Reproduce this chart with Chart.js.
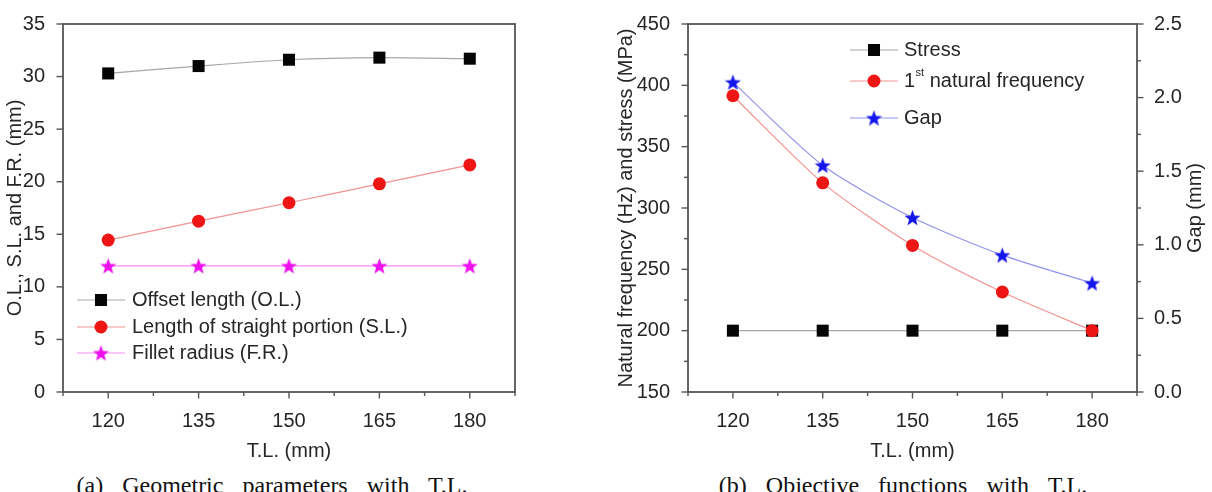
<!DOCTYPE html>
<html>
<head>
<meta charset="utf-8">
<title>Geometric parameters and objective functions with T.L.</title>
<script src="https://cdn.jsdelivr.net/npm/chart.js@4.4.1/dist/chart.umd.min.js"></script>
<style>
  html, body { margin: 0; padding: 0; background: #fff; }
  body { width: 1212px; height: 492px; position: relative; overflow: hidden; }
  canvas { position: absolute; top: 0; }
  #chart-a { left: 0; }
  #chart-b { left: 580px; }
  .caption {
    position: absolute; top: 473px;
    font: 24px 'Liberation Serif', 'Times New Roman', serif;
    line-height: 24px; word-spacing: 13px; color: #111;
    white-space: nowrap; transform: translateX(-50%);
  }
  #cap-a { left: 272px; }
  #cap-b { left: 903px; }
</style>
</head>
<body>
<canvas id="chart-a" width="580" height="470"></canvas>
<canvas id="chart-b" width="632" height="470"></canvas>
<div class="caption" id="cap-a">(a) Geometric parameters with T.L.</div>
<div class="caption" id="cap-b">(b) Objective functions with T.L.</div>
<script>
// T.L. sweep (mm)
const tlValues = [120, 135, 150, 165, 180];

// (a) geometric parameters (mm)
const offsetLength = [30.3, 31.0, 31.6, 31.8, 31.7];
const straightLength = [14.45, 16.25, 18.0, 19.8, 21.6];
const filletRadius = [12, 12, 12, 12, 12];

// (b) objective functions
const stress = [200, 200, 200, 200, 200];             // MPa
const naturalFreq = [391.5, 320.5, 269.5, 231.5, 200]; // Hz
const gap = [2.105, 1.54, 1.185, 0.93, 0.74];          // mm

const labelsA = ['Offset length (O.L.)', 'Length of straight portion (S.L.)', 'Fillet radius (F.R.)'];
const labelsB = ['Stress', '1st natural frequency', 'Gap'];

const xTitle = 'T.L. (mm)';
const yTitleA = 'O.L., S.L. and F.R. (mm)';
const yTitleB = 'Natural frequency (Hz) and stress (MPa)';
const y2TitleB = 'Gap (mm)';

const colors = {
    text: '#262626',
    frame: '#555555',
    black: '#050505',
    blackLine: 'rgba(0, 0, 0, 0.35)',
    red: '#ee1515',
    redLine: 'rgba(230, 40, 40, 0.5)',
    magenta: '#ee10ee',
    magentaLine: 'rgba(238, 0, 238, 0.45)',
    blue: '#1515ee',
    blueLine: 'rgba(40, 40, 220, 0.5)'
};

const FONT = "'Liberation Sans', Arial, sans-serif";

// filled five point star used as marker
function makeStar(color, size) {
    const c = document.createElement('canvas');
    c.width = size;
    c.height = size;
    const g = c.getContext('2d');
    const r = size / 2;
    const ri = r * 0.42;
    g.beginPath();
    for (let i = 0; i < 10; i++) {
        const rad = i % 2 ? ri : r;
        const a = -Math.PI / 2 + i * Math.PI / 5;
        g.lineTo(r + rad * Math.cos(a), r + 0.09 * r + rad * Math.sin(a));
    }
    g.closePath();
    g.fillStyle = color;
    g.fill();
    return c;
}

const starMagenta = makeStar(colors.magenta, 17);
const starBlue = makeStar(colors.blue, 17);

const toPoints = (vals) => tlValues.map((x, i) => ({ x: x, y: vals[i] }));

// plot frame + major/minor tick marks (outward)
const frameTicks = {
    id: 'frameTicks',
    beforeDatasetsDraw(chart) {
        const { ctx, chartArea: a } = chart;
        ctx.save();
        ctx.strokeStyle = colors.frame;
        ctx.lineWidth = 1.8;
        ctx.strokeRect(a.left, a.top, a.right - a.left, a.bottom - a.top);
        ctx.lineWidth = 1.4;
        Object.values(chart.scales).forEach((scale) => {
            scale.ticks.forEach((t) => {
                const len = t.label === '' ? 4 : 6.5;
                const p = scale.getPixelForValue(t.value);
                ctx.beginPath();
                if (scale.position === 'bottom') {
                    ctx.moveTo(p, a.bottom);
                    ctx.lineTo(p, a.bottom + len);
                } else if (scale.position === 'left') {
                    ctx.moveTo(a.left, p);
                    ctx.lineTo(a.left - len, p);
                } else {
                    ctx.moveTo(a.right, p);
                    ctx.lineTo(a.right + len, p);
                }
                ctx.stroke();
            });
        });
        ctx.restore();
    }
};

function drawMarker(ctx, ds, x, y) {
    ctx.fillStyle = ds.pointBackgroundColor;
    if (ds.pointStyle === 'rect') {
        const h = ds.pointRadius * Math.SQRT1_2;
        ctx.fillRect(x - h, y - h, 2 * h, 2 * h);
    } else if (ds.pointStyle === 'circle') {
        ctx.beginPath();
        ctx.arc(x, y, ds.pointRadius, 0, Math.PI * 2);
        ctx.fill();
    } else {
        const img = ds.pointStyle;
        ctx.drawImage(img, x - img.width / 2, y - img.height / 2);
    }
}

// label text, with "1st" style ordinal drawn as superscript
function drawLabel(ctx, text, x, y) {
    ctx.fillStyle = colors.text;
    ctx.textBaseline = 'middle';
    ctx.textAlign = 'left';
    const m = text.match(/^(\d+)(st|nd|rd|th)(\s.*)$/);
    ctx.font = '20px ' + FONT;
    if (!m) {
        ctx.fillText(text, x, y);
        return;
    }
    ctx.fillText(m[1], x, y);
    x += ctx.measureText(m[1]).width + 0.5;
    ctx.font = '11px ' + FONT;
    ctx.fillText(m[2], x, y - 8);
    x += ctx.measureText(m[2]).width;
    ctx.font = '20px ' + FONT;
    ctx.fillText(m[3], x, y);
}

const markerLegend = {
    id: 'markerLegend',
    afterDatasetsDraw(chart, args, opts) {
        const { ctx } = chart;
        ctx.save();
        chart.data.datasets.forEach((ds, i) => {
            const y = opts.rows[i];
            ctx.strokeStyle = ds.borderColor;
            ctx.lineWidth = 1.2;
            ctx.beginPath();
            ctx.moveTo(opts.x0, y);
            ctx.lineTo(opts.x1, y);
            ctx.stroke();
            drawMarker(ctx, ds, (opts.x0 + opts.x1) / 2, y);
            drawLabel(ctx, ds.label, opts.textX, y);
        });
        ctx.restore();
    }
};

// right-hand axis title, read bottom to top like the left one
const rightTitle = {
    id: 'rightTitle',
    afterDraw(chart, args, opts) {
        if (!opts.text) return;
        const s = chart.scales.y2;
        const { ctx } = chart;
        ctx.save();
        ctx.translate(opts.x, (s.top + s.bottom) / 2);
        ctx.rotate(-Math.PI / 2);
        ctx.font = '20px ' + FONT;
        ctx.fillStyle = colors.text;
        ctx.textAlign = 'center';
        ctx.textBaseline = 'middle';
        ctx.fillText(opts.text, 0, 0);
        ctx.restore();
    }
};

Chart.defaults.font.family = FONT;
Chart.defaults.font.size = 20;
Chart.defaults.color = colors.text;

function xScale() {
    return {
        type: 'linear',
        min: 112.5,
        max: 187.5,
        grid: { display: false },
        border: { display: false },
        ticks: {
            stepSize: 7.5,
            autoSkip: false,
            maxRotation: 0,
            padding: 9,
            callback: (v) => (v % 15 === 0 ? String(v) : '')
        },
        title: { display: true, text: xTitle, padding: { top: 0, bottom: 7 }, font: { size: 20, lineHeight: 1.2 } },
        afterFit: (s) => { s.height = 78; }
    };
}

function lineSet(label, vals, line, fill, style, radius, extra) {
    return Object.assign({
        label: label,
        data: toPoints(vals),
        borderColor: line,
        borderWidth: 1.2,
        pointStyle: style,
        pointRadius: radius,
        pointBackgroundColor: fill,
        pointBorderColor: fill,
        pointBorderWidth: 0,
        tension: 0.25,
        fill: false
    }, extra || {});
}

// Chart (a): geometric parameters
new Chart(document.getElementById('chart-a'), {
    type: 'line',
    data: {
        datasets: [
            lineSet(labelsA[0], offsetLength, colors.blackLine, colors.black, 'rect', 8.5),
            lineSet(labelsA[1], straightLength, colors.redLine, colors.red, 'circle', 6.5),
            lineSet(labelsA[2], filletRadius, colors.magentaLine, colors.magenta, starMagenta, 8)
        ]
    },
    options: {
        responsive: false,
        animation: false,
        events: [],
        layout: { padding: { left: 0, top: 24, right: 65, bottom: 0 } },
        plugins: {
            legend: { display: false },
            tooltip: { enabled: false },
            markerLegend: { x0: 77, x1: 125, textX: 132, rows: [300, 327, 353] }
        },
        scales: {
            x: xScale(),
            y: {
                min: 0,
                max: 35,
                grid: { display: false },
                border: { display: false },
                ticks: {
                    stepSize: 2.5,
                    padding: 10,
                    callback: (v) => (v % 5 === 0 ? String(v) : '')
                },
                title: { display: true, text: yTitleA, padding: { top: 3, bottom: 0 }, font: { size: 20, lineHeight: 1.2 } },
                afterFit: (s) => { s.width = 63; }
            }
        }
    },
    plugins: [frameTicks, markerLegend]
});

// Chart (b): objective functions
new Chart(document.getElementById('chart-b'), {
    type: 'line',
    data: {
        datasets: [
            lineSet(labelsB[0], stress, colors.blackLine, colors.black, 'rect', 8.5, { order: 2 }),
            lineSet(labelsB[1], naturalFreq, colors.redLine, colors.red, 'circle', 6.5, { order: 1 }),
            lineSet(labelsB[2], gap, colors.blueLine, colors.blue, starBlue, 8, { order: 0, yAxisID: 'y2' })
        ]
    },
    options: {
        responsive: false,
        animation: false,
        events: [],
        layout: { padding: { left: 0, top: 24, right: 0, bottom: 0 } },
        plugins: {
            legend: { display: false },
            tooltip: { enabled: false },
            markerLegend: { x0: 270, x1: 318, textX: 324, rows: [50, 81, 118] },
            rightTitle: { text: y2TitleB, x: 615 }
        },
        scales: {
            x: xScale(),
            y: {
                position: 'left',
                min: 150,
                max: 450,
                grid: { display: false },
                border: { display: false },
                ticks: {
                    stepSize: 25,
                    padding: 10,
                    callback: (v) => (v % 50 === 0 ? String(v) : '')
                },
                title: { display: true, text: yTitleB, padding: { top: 34, bottom: 0 }, font: { size: 20, lineHeight: 1.2 } },
                afterFit: (s) => { s.width = 108; }
            },
            y2: {
                position: 'right',
                min: 0,
                max: 2.5,
                grid: { display: false },
                border: { display: false },
                ticks: {
                    stepSize: 0.25,
                    padding: 9,
                    callback: (v) => (Math.abs(v * 2 - Math.round(v * 2)) < 1e-6 ? v.toFixed(1) : '')
                },
                afterFit: (s) => { s.width = 75; }
            }
        }
    },
    plugins: [frameTicks, markerLegend, rightTitle]
});
</script>
</body>
</html>
